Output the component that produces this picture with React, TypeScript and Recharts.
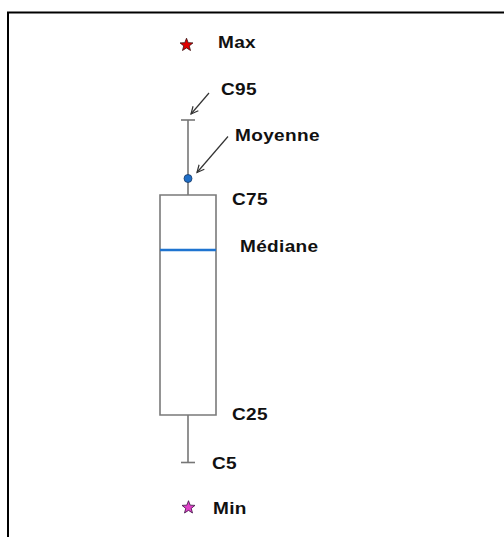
import React from 'react';
import { ComposedChart, Bar, Scatter, XAxis, YAxis, Customized } from 'recharts';

// Statistic names and their values (arbitrary unit scale 0–100)
const STAT_NAMES = ['Max', 'C95', 'Moyenne', 'C75', 'Médiane', 'C25', 'C5', 'Min'];
const STAT_VALUES = [97, 82, 70.5, 67, 56, 23, 13.5, 4.5];
const CATEGORIES = ['Série'];

const [MAX, C95, MEAN, C75, MEDIAN, C25, C5, MIN] = STAT_VALUES;

const data = [
  {
    name: CATEGORIES[0],
    box: [C25, C75],
    upper: [C75, C95],
    lower: [C5, C25],
    max: MAX,
    c95: C95,
    mean: MEAN,
    c75: C75,
    median: MEDIAN,
    c25: C25,
    c5: C5,
    min: MIN,
  },
];

const FONT = "'Liberation Sans', Arial, Helvetica, sans-serif";
const WHISKER = '#767676';

const textStyle = {
  fontFamily: FONT,
  fontWeight: 700,
  fontSize: 17,
  letterSpacing: 0.3,
  fill: '#111',
};

function Label({ x, y, children }: { x: number; y: number; children: React.ReactNode }) {
  return (
    <text x={0} y={0} transform={`translate(${x},${y}) scale(1.12,1)`} style={textStyle as any}>
      {children}
    </text>
  );
}

function starPoints(cx: number, cy: number, R: number, r: number) {
  const pts: string[] = [];
  for (let i = 0; i < 10; i++) {
    const a = -Math.PI / 2 + (i * Math.PI) / 5;
    const rad = i % 2 === 0 ? R : r;
    pts.push(`${(cx + rad * Math.cos(a)).toFixed(2)},${(cy + rad * Math.sin(a)).toFixed(2)}`);
  }
  return pts.join(' ');
}

function Arrow({ x1, y1, x2, y2 }: { x1: number; y1: number; x2: number; y2: number }) {
  const ang = Math.atan2(y1 - y2, x1 - x2);
  const L = 8;
  const spread = 0.45;
  const h1x = x2 + L * Math.cos(ang + spread);
  const h1y = y2 + L * Math.sin(ang + spread);
  const h2x = x2 + L * Math.cos(ang - spread);
  const h2y = y2 + L * Math.sin(ang - spread);
  return (
    <g stroke="#333" strokeWidth={1.2} fill="none">
      <line x1={x1} y1={y1} x2={x2} y2={y2} />
      <polyline points={`${h1x},${h1y} ${x2},${y2} ${h2x},${h2y}`} />
    </g>
  );
}

type Ann = {
  label: string;
  dx: number;
  dy: number;
  marker?: 'starRed' | 'starPink' | 'dot';
  arrow?: [number, number, number, number];
};

const makeShape = (ann: Ann) => (props: any) => {
  const { cx, cy } = props;
  if (cx == null || cy == null) return <g />;
  return (
    <g>
      {ann.marker === 'starRed' && (
        <polygon points={starPoints(cx - 1.5, cy, 6.8, 2.9)} fill="#e00000" stroke="#3a1010" strokeWidth={0.8} />
      )}
      {ann.marker === 'starPink' && (
        <polygon points={starPoints(cx + 0.5, cy, 6.8, 2.9)} fill="#e040c8" stroke="#3a1040" strokeWidth={0.8} />
      )}
      {ann.marker === 'dot' && <circle cx={cx} cy={cy + 1} r={4} fill="#1f6fc8" stroke="#1b3a66" strokeWidth={0.8} />}
      {ann.arrow && (
        <Arrow x1={cx + ann.arrow[0]} y1={cy + ann.arrow[1]} x2={cx + ann.arrow[2]} y2={cy + ann.arrow[3]} />
      )}
      <Label x={cx + ann.dx} y={cy + ann.dy}>
        {ann.label}
      </Label>
    </g>
  );
};

const MedianShape = (props: any) => {
  const { cx, cy } = props;
  if (cx == null || cy == null) return <g />;
  return (
    <g>
      <line x1={cx - 28} y1={cy} x2={cx + 28} y2={cy} stroke="#1f74d0" strokeWidth={2.5} />
      <Label x={cx + 52} y={cy + 2}>
        {STAT_NAMES[4]}
      </Label>
    </g>
  );
};

const UpperWhisker = (props: any) => {
  const { x, y, width, height } = props;
  const top = Math.min(y, y + height);
  const bot = Math.max(y, y + height);
  const mx = x + width / 2;
  return (
    <g stroke={WHISKER} strokeWidth={1.6}>
      <line x1={mx} y1={top} x2={mx} y2={bot} />
      <line x1={mx - 7} y1={top} x2={mx + 7} y2={top} />
    </g>
  );
};

const LowerWhisker = (props: any) => {
  const { x, y, width, height } = props;
  const top = Math.min(y, y + height);
  const bot = Math.max(y, y + height);
  const mx = x + width / 2;
  return (
    <g stroke={WHISKER} strokeWidth={1.6}>
      <line x1={mx} y1={top} x2={mx} y2={bot} />
      <line x1={mx - 7} y1={bot} x2={mx + 7} y2={bot} />
    </g>
  );
};

const Frame = () => (
  <g>
    <line x1={7} y1={12.5} x2={504} y2={12.5} stroke="#000" strokeWidth={2} />
    <line x1={8} y1={12} x2={8} y2={537} stroke="#000" strokeWidth={2} />
  </g>
);

const annotations: { key: string; ann: Ann }[] = [
  { key: 'max', ann: { label: STAT_NAMES[0], dx: 30, dy: 3, marker: 'starRed' } },
  { key: 'c95', ann: { label: STAT_NAMES[1], dx: 33, dy: -25, arrow: [21, -27, 3, -6] } },
  { key: 'mean', ann: { label: STAT_NAMES[2], dx: 47, dy: -37, marker: 'dot', arrow: [40, -41, 9, -5] } },
  { key: 'c75', ann: { label: STAT_NAMES[3], dx: 44, dy: 10 } },
  { key: 'c25', ann: { label: STAT_NAMES[5], dx: 44, dy: 5 } },
  { key: 'c5', ann: { label: STAT_NAMES[6], dx: 24, dy: 6 } },
  { key: 'min', ann: { label: STAT_NAMES[7], dx: 25, dy: 6, marker: 'starPink' } },
];

export default function App() {
  return (
    <div style={{ width: 504, height: 537, overflow: 'hidden', background: '#fff' }}>
      <style>{'html,body{margin:0;padding:0;overflow:hidden;}'}</style>
      <ComposedChart width={504} height={537} data={data} margin={{ top: 30, right: 128, bottom: 7, left: 0 }}>
        <XAxis xAxisId={0} dataKey="name" type="category" hide />
        <XAxis xAxisId={1} dataKey="name" type="category" hide />
        <XAxis xAxisId={2} dataKey="name" type="category" hide />
        <YAxis type="number" domain={[0, 100]} hide allowDataOverflow />
        <Customized component={Frame} />
        <Bar xAxisId={1} dataKey="upper" barSize={56} shape={UpperWhisker} isAnimationActive={false} />
        <Bar xAxisId={2} dataKey="lower" barSize={56} shape={LowerWhisker} isAnimationActive={false} />
        <Bar
          xAxisId={0}
          dataKey="box"
          barSize={56}
          fill="#fff"
          stroke="#7a7a7a"
          strokeWidth={1.6}
          isAnimationActive={false}
        />
        <Scatter xAxisId={0} dataKey="median" shape={MedianShape} isAnimationActive={false} />
        {annotations.map(({ key, ann }) => (
          <Scatter key={key} xAxisId={0} dataKey={key} shape={makeShape(ann)} isAnimationActive={false} />
        ))}
      </ComposedChart>
    </div>
  );
}
